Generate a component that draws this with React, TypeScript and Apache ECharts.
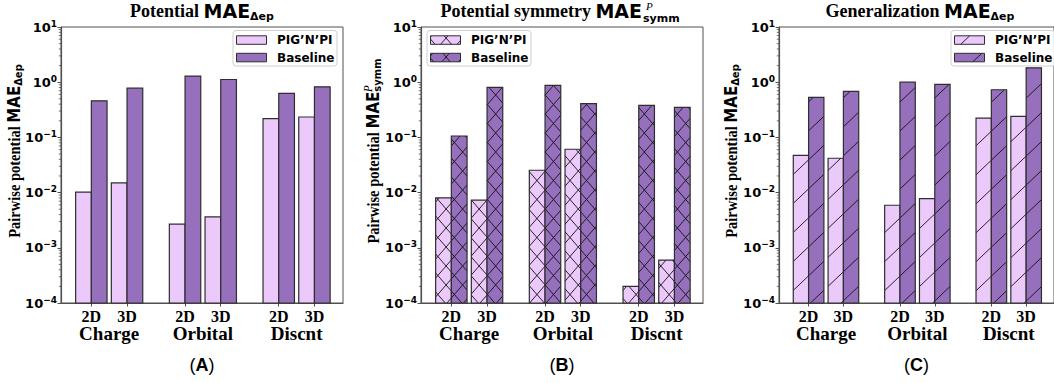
import React, { useEffect, useRef } from 'react';
import * as echarts from 'echarts';

// ---------- data ----------
const positions = [0, 1, 2.625, 3.625, 5.25, 6.25];
const subLabels = ['2D', '3D', '2D', '3D', '2D', '3D'];
const groupCenters = [0.5, 3.125, 5.75];
const groupLabels = ['Charge', 'Orbital', 'Discnt'];
const seriesNames = ['PIG\u2019N\u2019PI', 'Baseline'];

const potentialPig = [0.0102, 0.015, 0.00268, 0.00363, 0.218, 0.234];
const potentialBase = [0.46, 0.78, 1.29, 1.12, 0.627, 0.826];
const symmPig = [0.008, 0.0073, 0.0254, 0.061, 0.0002, 0.0006];
const symmBase = [0.106, 0.805, 0.875, 0.41, 0.38, 0.35];
const genPig = [0.0474, 0.0419, 0.0059, 0.0078, 0.224, 0.241];
const genBase = [0.531, 0.68, 1.0, 0.91, 0.73, 1.82];

const panelLetters = ['A', 'B', 'C'];

// ---------- layout / style ----------
const X_MIN = -0.85;
const X_MAX = 7.05;
const Y_MIN = 1e-4;
const Y_MAX = 10;
const BAR_W = 0.44;
const PIG_COLOR = '#ebc9fb';
const BASE_COLOR = '#9670bd';
const EDGE = '#2e2e2e';
const SPINE = '#505050';

const GRID_TOP = 27;
const GRID_H = 276;
const GRID_W = 282;
const gridLefts = [61, 421, 779];

const SERIF = "'Liberation Serif', 'Times New Roman', serif";
const SANS = "'DejaVu Sans', sans-serif";
const ARIAL = "'Liberation Sans', Arial, sans-serif";

type Seg = [number, number, number, number];

const hatchSpec: Record<string, { p: number; s: number; slopes: number[] }> = {
  none: { p: 30, s: 1, slopes: [] },
  x: { p: 19, s: 1.15, slopes: [1, -1] },
  '/': { p: 29, s: 0.95, slopes: [-1] },
};

function hatchSegs(x0: number, y0: number, x1: number, y1: number, kind: string): Seg[] {
  const spec = hatchSpec[kind];
  const segs: Seg[] = [];
  for (const sgn of spec.slopes) {
    const m = sgn * spec.s;
    const P = spec.p;
    const cs = [y0 - m * x0, y0 - m * x1, y1 - m * x0, y1 - m * x1];
    const cmin = Math.min(...cs);
    const cmax = Math.max(...cs);
    for (let k = Math.floor(cmin / P); k <= Math.ceil(cmax / P); k++) {
      const c = k * P;
      const xa = (y0 - c) / m;
      const xb = (y1 - c) / m;
      const lo = Math.max(x0, Math.min(xa, xb));
      const hi = Math.min(x1, Math.max(xa, xb));
      if (hi - lo > 0.3) segs.push([lo, c + m * lo, hi, c + m * hi]);
    }
  }
  return segs;
}

function hatchLines(segs: Seg[]) {
  return segs.map((s) => ({
    type: 'line',
    shape: { x1: s[0], y1: s[1], x2: s[2], y2: s[3] },
    style: { stroke: '#111', lineWidth: 0.9 },
    silent: true,
  }));
}

function makeRender(side: number, color: string, hatch: string) {
  return (params: any, api: any) => {
    const x = api.value(0);
    const v = api.value(1);
    const xa = side < 0 ? x - BAR_W : x;
    const xb = side < 0 ? x : x + BAR_W;
    const p0 = api.coord([xa, v]);
    const p1 = api.coord([xb, Y_MIN]);
    const shape = { x: p0[0], y: p0[1], width: p1[0] - p0[0], height: p1[1] - p0[1] };
    const children: any[] = [
      { type: 'rect', shape, style: { fill: color } },
      ...hatchLines(hatchSegs(p0[0], p0[1], p1[0], p1[1], hatch)),
      { type: 'rect', shape, style: { fill: 'none', stroke: EDGE, lineWidth: 1.2 } },
    ];
    return { type: 'group', children };
  };
}

function minorTickRender(params: any, api: any) {
  const p = api.coord([X_MIN, api.value(1)]);
  return {
    type: 'line',
    shape: { x1: p[0] - 2.2, y1: p[1], x2: p[0], y2: p[1] },
    style: { stroke: SPINE, lineWidth: 0.8 },
  };
}

const minorVals: number[] = [];
for (let e = -4; e < 1; e++) for (let m = 2; m <= 9; m++) minorVals.push(m * Math.pow(10, e));

function legendGroup(left: number, top: number, hatch: string) {
  const children: any[] = [
    {
      type: 'rect',
      shape: { x: left, y: top, width: 104, height: 35.5, r: 3 },
      style: { fill: 'rgba(255,255,255,0.85)', stroke: '#cfcfcf', lineWidth: 1 },
    },
  ];
  const colors = [PIG_COLOR, BASE_COLOR];
  seriesNames.forEach((name, i) => {
    const px = left + 3.5;
    const py = top + 5.3 + i * 17.5;
    const shape = { x: px, y: py, width: 30, height: 8.5 };
    children.push({ type: 'rect', shape, style: { fill: colors[i] } });
    children.push(...hatchLines(hatchSegs(px, py, px + 30, py + 8.5, hatch)));
    children.push({ type: 'rect', shape, style: { fill: 'none', stroke: EDGE, lineWidth: 1 } });
    children.push({
      type: 'text',
      x: left + 44,
      y: py + 4.5,
      style: {
        text: name,
        fill: '#000',
        font: `bold 12px ${SANS}`,
        verticalAlign: 'middle',
        textVerticalAlign: 'middle',
      },
    });
  });
  return { type: 'group', children };
}

function yLabelFmt(v: number) {
  const e = Math.round(Math.log10(v));
  const es = e < 0 ? '\u2212' + String(-e) : String(e);
  return `{n|10}{e|${es}}`;
}

const tickRich = {
  n: { fontFamily: SANS, fontWeight: 'bold', fontSize: 13, color: '#000', lineHeight: 16 },
  e: { fontFamily: SANS, fontWeight: 'bold', fontSize: 9, color: '#000', lineHeight: 9, verticalAlign: 'top' },
};

const yNameRich = {
  t: { fontFamily: SERIF, fontWeight: 'bold', fontSize: 14.5, color: '#000', lineHeight: 18 },
  m: { fontFamily: SANS, fontWeight: 'bold', fontSize: 15, color: '#000', lineHeight: 18 },
  s: { fontFamily: SANS, fontWeight: 'bold', fontSize: 10, color: '#000', lineHeight: 10, verticalAlign: 'bottom' },
};

const titleRich = {
  t: { fontFamily: SERIF, fontWeight: 'bold', fontSize: 18, color: '#000', lineHeight: 22 },
  m: { fontFamily: SANS, fontWeight: 'bold', fontSize: 19, color: '#000', lineHeight: 22 },
  s: { fontFamily: SANS, fontWeight: 'bold', fontSize: 11, color: '#000', lineHeight: 10, verticalAlign: 'bottom' },
};

function buildOption() {
  const grid = gridLefts.map((l) => ({ left: l, top: GRID_TOP, width: GRID_W, height: GRID_H, show: true, borderColor: SPINE, borderWidth: 1, backgroundColor: 'transparent' }));
  const xAxis: any[] = [];
  const yAxis: any[] = [];
  const series: any[] = [];
  const title: any[] = [];
  const panels = [
    { pig: potentialPig, base: potentialBase, hatch: 'none', sym: false },
    { pig: symmPig, base: symmBase, hatch: 'x', sym: true },
    { pig: genPig, base: genBase, hatch: '/', sym: false },
  ];
  const titleTexts = ['Potential ', 'Potential symmetry ', 'Generalization '];
  const yNameX = [24, 383, 741];
  const graphic: any[] = [];
  panels.forEach((pn, i) => {
    xAxis.push({
      type: 'value',
      gridIndex: i,
      min: X_MIN,
      max: X_MAX,
      position: 'bottom',
      splitLine: { show: false },
      axisLine: { show: true, onZero: false, lineStyle: { color: SPINE, width: 1.2 } },
      axisTick: { show: true, customValues: positions, length: 3.5, lineStyle: { color: SPINE, width: 1 } },
      axisLabel: {
        customValues: positions,
        formatter: (v: number) => {
          const k = positions.findIndex((p) => Math.abs(p - v) < 1e-6);
          return k >= 0 ? subLabels[k] : '';
        },
        fontFamily: SERIF,
        fontWeight: 'bold',
        fontSize: 16,
        color: '#000',
        margin: 5,
      },
      name: `{p|(}{a|${panelLetters[i]}}{p|)}`,
      nameLocation: 'middle',
      nameGap: 53,
      nameTextStyle: {
        rich: {
          p: { fontFamily: ARIAL, fontSize: 18, color: '#000' },
          a: { fontFamily: ARIAL, fontSize: 18, fontWeight: 'bold', color: '#000' },
        },
      },
    });
    xAxis.push({
      type: 'value',
      gridIndex: i,
      min: X_MIN,
      max: X_MAX,
      position: 'bottom',
      splitLine: { show: false },
      axisLine: { show: false },
      axisTick: { show: false },
      axisLabel: {
        customValues: groupCenters,
        formatter: (v: number) => {
          const k = groupCenters.findIndex((p) => Math.abs(p - v) < 1e-6);
          return k >= 0 ? groupLabels[k] : '';
        },
        fontFamily: SERIF,
        fontWeight: 'bold',
        fontSize: 19,
        color: '#000',
        margin: 21,
      },
    });
    const subTxt = pn.sym ? 'symm' : '\u0394ep';
    yAxis.push({
      type: 'log',
      logBase: 10,
      gridIndex: i,
      min: Y_MIN,
      max: Y_MAX,
      splitLine: { show: false },
      axisLine: { show: true, onZero: false, lineStyle: { color: SPINE, width: 1.2 } },
      axisTick: { show: true, length: 3.5, lineStyle: { color: SPINE, width: 1 } },
      axisLabel: { formatter: yLabelFmt, rich: tickRich, margin: 4 },
    });
    graphic.push({
      type: 'text',
      x: yNameX[i],
      y: 151,
      rotation: Math.PI / 2,
      scaleY: 1.12,
      style: {
        text: `{t|Pairwise potential }{m|MAE}{s|${subTxt}}`,
        rich: yNameRich,
        align: 'center',
        verticalAlign: 'bottom',
      },
    });
    if (!pn.sym) {
      title.push({
        left: gridLefts[i] + GRID_W / 2,
        top: 0,
        padding: 0,
        textAlign: 'center',
        text: `{t|${titleTexts[i]}}{m|MAE}{s|${subTxt}}`,
        textStyle: { rich: titleRich },
      });
    } else {
      // title with stacked super/subscript: main part, superscript P, subscript symm
      const joint = 642;
      title.push({
        left: joint,
        top: 0,
        padding: 0,
        textAlign: 'right',
        text: `{t|${titleTexts[i]}}{m|MAE}`,
        textStyle: { rich: titleRich },
      });
      graphic.push(
        {
          type: 'text',
          x: joint + 1,
          y: 12.5,
          style: { text: subTxt, fill: '#000', font: `bold 11px ${SANS}`, align: 'left', verticalAlign: 'top' },
        },
        {
          type: 'text',
          x: joint + 4,
          y: 0,
          style: { text: 'P', fill: '#000', font: `italic 11px ${SERIF}`, align: 'left', verticalAlign: 'top' },
        }
      );
    }
    series.push({
      type: 'custom',
      name: seriesNames[0],
      xAxisIndex: 2 * i,
      yAxisIndex: i,
      renderItem: makeRender(-1, PIG_COLOR, pn.hatch),
      data: positions.map((p, k) => [p, pn.pig[k]]),
    });
    series.push({
      type: 'custom',
      name: seriesNames[1],
      xAxisIndex: 2 * i,
      yAxisIndex: i,
      renderItem: makeRender(1, BASE_COLOR, pn.hatch),
      data: positions.map((p, k) => [p, pn.base[k]]),
    });
    series.push({
      type: 'custom',
      name: 'minor' + i,
      xAxisIndex: 2 * i,
      yAxisIndex: i,
      silent: true,
      renderItem: minorTickRender,
      data: minorVals.map((v) => [X_MIN, v]),
    });
  });

  graphic.push(
    legendGroup(233, 30.5, 'none'),
    legendGroup(427, 30.5, 'x'),
    legendGroup(951, 30.5, '/'),
    {
      type: 'text',
      x: 362,
      y: 92,
      rotation: Math.PI / 2,
      scaleY: 1.12,
      style: { text: 'P', fill: '#000', font: `italic 11px ${SERIF}`, align: 'left', verticalAlign: 'top' },
    }
  );

  return {
    animation: false,
    backgroundColor: '#ffffff',
    title,
    grid,
    xAxis,
    yAxis,
    series,
    graphic,
  };
}

export default function App() {
  const ref = useRef<HTMLDivElement>(null);
  useEffect(() => {
    if (!ref.current) return;
    const chart = echarts.init(ref.current, undefined, { renderer: 'svg' });
    chart.setOption(buildOption() as any);
    return () => chart.dispose();
  }, []);
  return (
    <div
      ref={ref}
      style={{ position: 'fixed', left: 0, top: 0, width: 1054, height: 383, background: '#fff' }}
    />
  );
}
